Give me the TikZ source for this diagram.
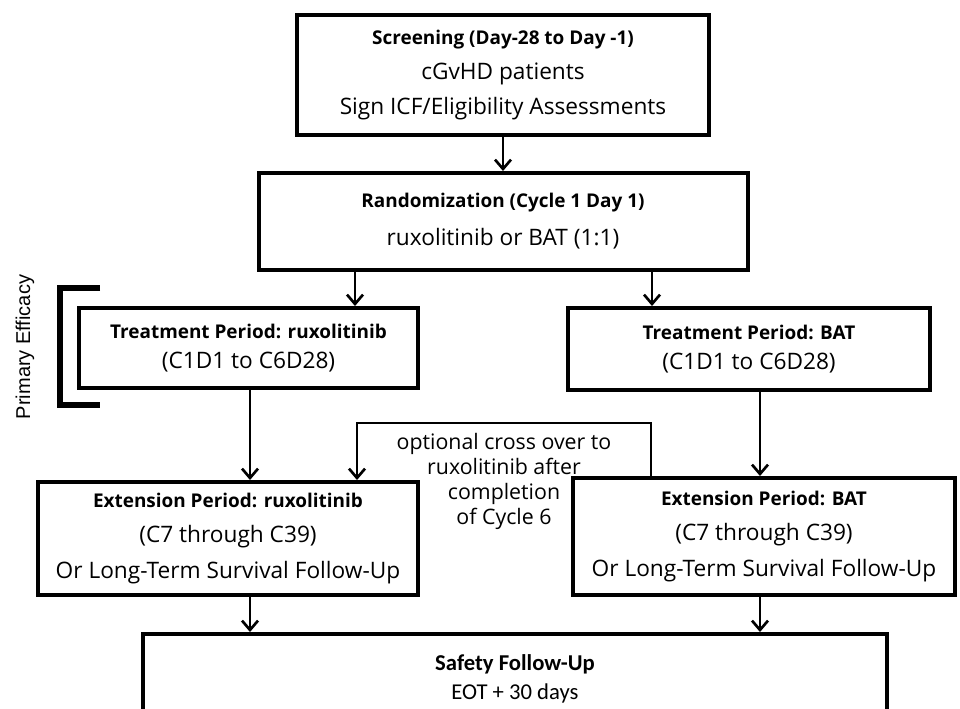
\documentclass[tikz,border=0pt]{standalone}
\usepackage{fontspec}
\setmainfont{Open Sans}
\newfontfamily\calfont{Carlito}
\newfontfamily\arialfont{Liberation Sans}
\usetikzlibrary{arrows.meta}
\newcommand\boxhead[1]{{\fontsize{14.2}{26}\selectfont\bfseries #1}}

\begin{document}
\begin{tikzpicture}[x=0.75pt,y=-0.75pt,
  box/.style={draw=black, line width=3pt, align=center, inner sep=0pt, font=\fontsize{17}{26.5}\selectfont},
  arr/.style={line width=2pt, -{Straight Barb[length=7pt,width=12pt,line width=2pt]}},
  crossline/.style={line width=1.3pt, -{Straight Barb[length=7pt,width=12pt,line width=2pt]}}]
\useasboundingbox (0,0) rectangle (960,708);
\node[box, minimum width=309pt, minimum height=90pt] (screen) at (503,75)
  {\boxhead{Screening (Day-28 to Day -1)}\\cGvHD patients\\Sign ICF/Eligibility Assessments};
\node[box, minimum width=366.75pt, minimum height=72.75pt, font=\fontsize{17}{28.5}\selectfont] (rand) at (503,221.5)
  {\boxhead{Randomization (Cycle 1 Day 1)}\\ruxolitinib or BAT (1:1)};
\node[box, minimum width=254.25pt, minimum height=60pt, font=\fontsize{17}{23}\selectfont] (treatRux) at (248.5,348)
  {\boxhead{Treatment Period: ruxolitinib}\\(C1D1 to C6D28)};
\node[box, minimum width=271.5pt, minimum height=61.5pt, font=\fontsize{17}{23}\selectfont] (treatBAT) at (749,349)
  {\boxhead{Treatment Period: BAT}\\(C1D1 to C6D28)};
\node[box, minimum width=285pt, minimum height=84.75pt] (extRux) at (228,538.5)
  {\boxhead{Extension Period: ruxolitinib}\\(C7 through C39)\\Or Long-Term Survival Follow-Up};
\node[box, minimum width=286.5pt, minimum height=87.75pt] (extBAT) at (764,536.5)
  {\boxhead{Extension Period: BAT}\\(C7 through C39)\\Or Long-Term Survival Follow-Up};
\node[box, anchor=north, minimum width=558pt, minimum height=67.5pt, font=\calfont\fontsize{17}{22}\selectfont] (safety) at (515,632)
  {{\bfseries Safety Follow-Up}\\EOT + 30 days};
\node[align=center, inner sep=0pt, font=\fontsize{16}{18.75}\selectfont] (cross) at (504,481)
  {optional cross over to\\ruxolitinib after\\completion\\of Cycle 6};
\node[rotate=90, inner sep=0pt, font=\arialfont\fontsize{15}{18}\selectfont] (eff) at (25,347) {Primary Efficacy};
\draw[line width=4pt] (100,288) -- (60,288) -- (60,405) -- (100,405);
\coordinate (rL) at (355,0);
\coordinate (rR) at (652,0);
\coordinate (tL) at (250,0);
\coordinate (tR) at (760,0);
\coordinate (xR) at (651,423);
\coordinate (xL) at (357,423);
\draw[arr] (screen.south) -- (rand.north);
\draw[arr] (rL |- rand.south) -- (rL |- treatRux.north);
\draw[arr] (rR |- rand.south) -- (rR |- treatBAT.north);
\draw[arr] (tL |- treatRux.south) -- (tL |- extRux.north);
\draw[arr] (tR |- treatBAT.south) -- (tR |- extBAT.north);
\draw[arr] (tL |- extRux.south) -- (tL |- safety.north);
\draw[arr] (tR |- extBAT.south) -- (tR |- safety.north);
\draw[crossline] (xR |- extBAT.north) -- (xR) -- (xL) -- (xL |- extRux.north);
\end{tikzpicture}
\end{document}
